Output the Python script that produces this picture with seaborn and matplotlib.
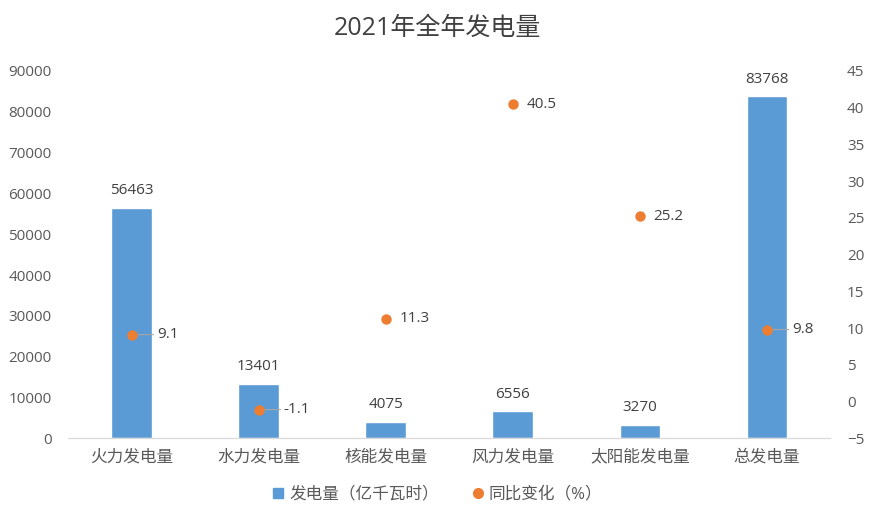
import numpy as np
import pandas as pd
import matplotlib.pyplot as plt
import seaborn as sns
from matplotlib.lines import Line2D

# данные
categories = ['火力发电量', '水力发电量', '核能发电量', '风力发电量', '太阳能发电量', '总发电量']
generation = [56463, 13401, 4075, 6556, 3270, 83768]
yoy_change = [9.1, -1.1, 11.3, 40.5, 25.2, 9.8]
leader_idx = [0, 1, 5]  # подписи с выносной линией

df = pd.DataFrame({'cat': categories, 'gen': generation, 'yoy': yoy_change})

sns.set_style('white')
plt.rcParams['font.family'] = ['Open Sans', 'Noto Sans CJK SC', 'DejaVu Sans']

BLUE = '#5B9BD5'
ORANGE = '#ED7D31'
GRAY = '#595959'

fig = plt.figure(figsize=(8.75, 5.18), dpi=100)
ax = fig.add_axes([0.078, 0.154, 0.871, 0.709])

sns.barplot(data=df, x='cat', y='gen', color=BLUE, width=0.32,
            saturation=1, ax=ax)
ax.set_ylim(0, 90000)
ax.set_yticks(np.arange(0, 90001, 10000))
ax.set_xlabel('')
ax.set_ylabel('')
for c in ax.containers:
    ax.bar_label(c, labels=[str(v) for v in generation], padding=7,
                 fontsize=11, color='#404040')

ax2 = ax.twinx()
sns.stripplot(data=df, x='cat', y='yoy', color=ORANGE, jitter=False,
              size=7.5, linewidth=0, ax=ax2, zorder=5)
ax2.set_ylim(-5, 45)
ax2.set_yticks(np.arange(-5, 46, 5))
ax2.set_ylabel('')
ax2.set_xlabel('')

for i, v in enumerate(yoy_change):
    if i in leader_idx:
        ax2.annotate(f'{v}', xy=(i, v), xytext=(18, 0), textcoords='offset points',
                     va='center', ha='left', fontsize=11, color='#404040',
                     arrowprops=dict(arrowstyle='-', color='#A6A6A6', lw=0.8,
                                     shrinkA=0, shrinkB=1))
    else:
        ax2.annotate(f'{v}', xy=(i, v), xytext=(10, 0), textcoords='offset points',
                     va='center', ha='left', fontsize=11, color='#404040')

for a in (ax, ax2):
    for s in ['top', 'left', 'right']:
        a.spines[s].set_visible(False)
    a.spines['bottom'].set_color('#D9D9D9')
    a.tick_params(axis='y', length=0, labelsize=11, labelcolor=GRAY)
    a.tick_params(axis='x', length=0, labelsize=12, labelcolor=GRAY, pad=8)
ax.set_xticks(range(len(categories)))
ax.set_xticklabels(categories)
ax.tick_params(axis='y', pad=12)
ax2.tick_params(axis='y', pad=12)
ax.set_xlim(-0.5, len(categories) - 0.5)

fig.text(0.5, 0.945, '2021年全年发电量', ha='center', va='center',
         fontsize=18, color='#404040')

handles = [Line2D([], [], marker='s', linestyle='', color=BLUE, markersize=7),
           Line2D([], [], marker='o', linestyle='', color=ORANGE, markersize=7)]
fig.legend(handles, ['发电量（亿千瓦时）', '同比变化（%）'], loc='center',
           bbox_to_anchor=(0.5, 0.045), ncol=2, frameon=False, fontsize=12,
           labelcolor=GRAY, handlelength=0.7, handletextpad=0.3,
           columnspacing=2.0)

plt.savefig('out.png', dpi=100)
